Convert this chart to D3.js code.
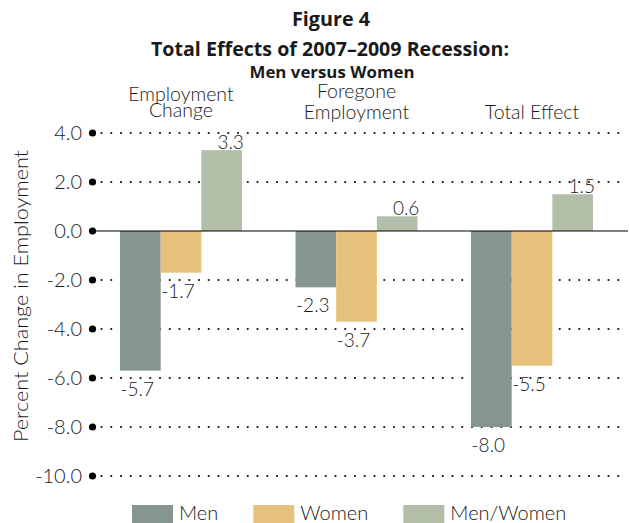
<!DOCTYPE html>
<html>
<head>
<meta charset="utf-8">
<script src="https://cdn.jsdelivr.net/npm/d3@7"></script>
<style>
  body { margin: 0; background: #fff; }
  text { fill: #1a1a1a; }
  .light { font-family: Lato, "Open Sans", sans-serif; font-weight: 300; }
  .title { font-family: "Open Sans", "Noto Sans", sans-serif; font-weight: 700; }
</style>
</head>
<body>
<script>
// chart data
var categories = ["Employment Change", "Foregone Employment", "Total Effect"];
var categoryLines = [["Employment", "Change"], ["Foregone", "Employment"], ["Total Effect"]];
var series = ["Men", "Women", "Men/Women"];
var men = [-5.7, -2.3, -8.0];
var women = [-1.7, -3.7, -5.5];
var menWomen = [3.3, 0.6, 1.5];
var yTicks = [4, 2, 0, -2, -4, -6, -8, -10];

var colors = { "Men": "#859692", "Women": "#e5c17b", "Men/Women": "#b2bea8" };

var width = 630, height = 523;

var svg = d3.select("body").append("svg")
  .attr("width", width)
  .attr("height", height);

var y = d3.scaleLinear().domain([-10, 4]).range([476, 133]);

var x = d3.scaleBand()
  .domain(categories)
  .range([120, 593])
  .paddingInner(0.305)
  .paddingOuter(0);

var xs = d3.scaleBand()
  .domain(series)
  .range([0, x.bandwidth()]);

var rows = [];
categories.forEach(function (c, i) {
  rows.push({ cat: c, s: "Men", v: men[i] });
  rows.push({ cat: c, s: "Women", v: women[i] });
  rows.push({ cat: c, s: "Men/Women", v: menWomen[i] });
});

function fmt(v) {
  return d3.format(".1f")(v).replace("\u2212", "-");
}

// titles
var title = svg.append("g").attr("class", "title").attr("text-anchor", "middle");
title.append("text").attr("x", 331).attr("y", 26).style("font-size", "19px")
  .attr("textLength", 78).attr("lengthAdjust", "spacingAndGlyphs").text("Figure 4");
title.append("text").attr("x", 330).attr("y", 56).style("font-size", "19px")
  .attr("textLength", 358).attr("lengthAdjust", "spacingAndGlyphs").text("Total Effects of 2007\u20132009 Recession:");
title.append("text").attr("x", 332).attr("y", 78).style("font-size", "16px")
  .attr("textLength", 165).attr("lengthAdjust", "spacingAndGlyphs").text("Men versus Women");

// category headers
var head = svg.append("g").attr("class", "light").attr("text-anchor", "middle").style("font-size", "19.5px");
var headY = [[101, 117], [98, 119], [119]];
categories.forEach(function (c, i) {
  categoryLines[i].forEach(function (l, j) {
    head.append("text")
      .attr("x", x(c) + x.bandwidth() / 2)
      .attr("y", headY[i][j])
      .text(l);
  });
});

// grid (dotted)
var grid = svg.append("g");
grid.selectAll("line")
  .data(yTicks.filter(function (t) { return t != 0; }))
  .enter().append("line")
  .attr("x1", 101.5).attr("x2", 628)
  .attr("y1", function (d) { return y(d); })
  .attr("y2", function (d) { return y(d); })
  .attr("stroke", "#111")
  .attr("stroke-width", 2.2)
  .attr("stroke-linecap", "round")
  .attr("stroke-dasharray", "0,9.75");

// axis dots + labels
var ax = svg.append("g");
ax.selectAll("circle")
  .data(yTicks)
  .enter().append("circle")
  .attr("cx", 92.5)
  .attr("cy", function (d) { return y(d); })
  .attr("r", 3.6)
  .attr("fill", "#000");

ax.selectAll("text")
  .data(yTicks)
  .enter().append("text")
  .attr("class", "light")
  .attr("x", 82)
  .attr("y", function (d) { return y(d) + 7; })
  .attr("text-anchor", "end")
  .style("font-size", "20px")
  .text(function (d) { return fmt(d); });

svg.append("text")
  .attr("class", "light")
  .attr("transform", "translate(28,296) rotate(-90)")
  .attr("text-anchor", "middle")
  .style("font-size", "20px")
  .attr("textLength", 292)
  .attr("lengthAdjust", "spacingAndGlyphs")
  .text("Percent Change in Employment");

// bars
svg.append("g").selectAll("rect")
  .data(rows)
  .enter().append("rect")
  .attr("x", function (d) { return x(d.cat) + xs(d.s); })
  .attr("width", xs.bandwidth())
  .attr("y", function (d) { return Math.min(y(d.v), y(0)); })
  .attr("height", function (d) { return Math.abs(y(d.v) - y(0)); })
  .attr("fill", function (d) { return colors[d.s]; });

// zero line
svg.append("line")
  .attr("x1", 95).attr("x2", 628)
  .attr("y1", y(0)).attr("y2", y(0))
  .attr("stroke", "#000")
  .attr("stroke-width", 1.2);

// value labels
svg.append("g").attr("class", "light").style("font-size", "19px")
  .selectAll("text")
  .data(rows)
  .enter().append("text")
  .attr("text-anchor", "middle")
  .attr("x", function (d) { return x(d.cat) + xs(d.s) + xs.bandwidth() / 2 + (d.v > 0 ? 9 : -3); })
  .attr("y", function (d) { return d.v > 0 ? y(d.v) - 1 : y(d.v) + 25; })
  .text(function (d) { return fmt(d.v); });

// legend
var leg = svg.append("g");
var lx = 132;
series.forEach(function (s) {
  leg.append("rect")
    .attr("x", lx).attr("y", 505)
    .attr("width", 41).attr("height", 18)
    .attr("fill", colors[s]);
  var t = leg.append("text")
    .attr("class", "light")
    .attr("x", lx + 47).attr("y", 520)
    .style("font-size", "20px")
    .text(s);
  lx = lx + 47 + t.node().getComputedTextLength() + 35;
});
</script>
</body>
</html>
